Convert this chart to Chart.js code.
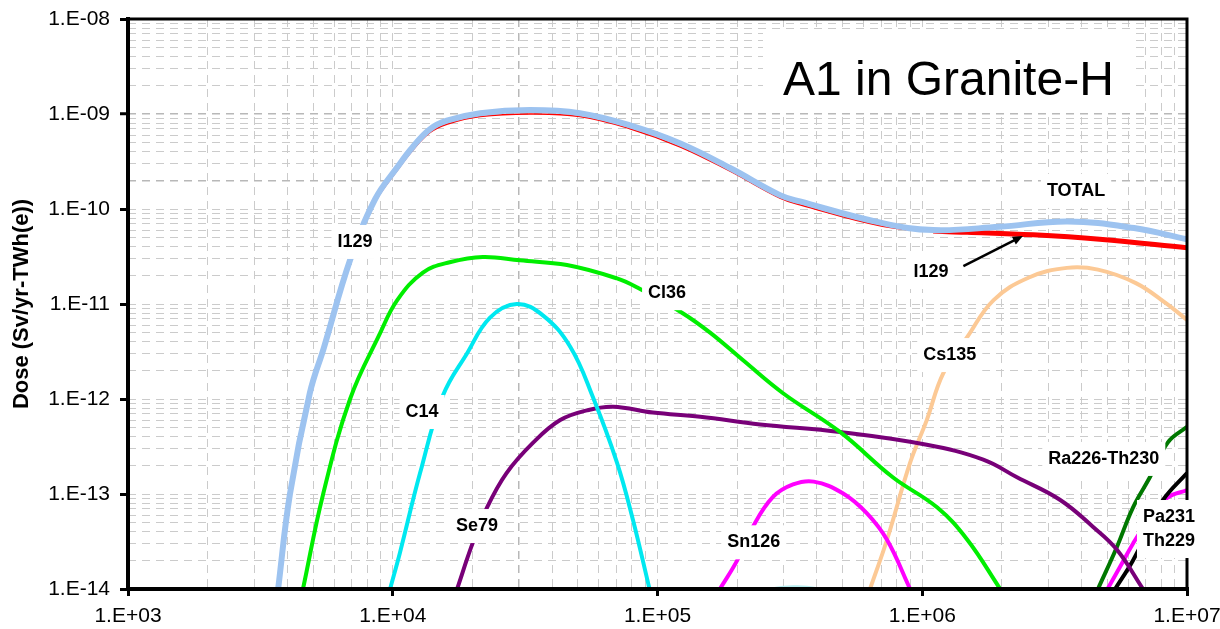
<!DOCTYPE html>
<html>
<head>
<meta charset="utf-8">
<script src="https://cdn.jsdelivr.net/npm/chart.js@4/dist/chart.umd.min.js"></script>
<style>
  body { margin: 0; background: #fff; }
</style>
</head>
<body>
<canvas id="doseChart" width="1220" height="629"></canvas>
<script>
// time (years) and dose (Sv/yr-TWh(e))
const totalYears = [3.69e3, 4.09e3, 4.86e3, 5.5e3, 6.9e3, 8.57e3, 1.04e4, 1.19e4, 1.38e4, 1.6e4, 2.14e4, 3.3e4, 5.09e4, 7.87e4, 1.22e5, 1.88e5, 2.9e5, 3.45e5, 7.08e5, 1.1e6, 1.95e6, 3.55e6, 6.31e6, 1e7];
const totalDose = [1e-14, 1e-13, 1.15e-12, 3.5e-12, 2.9e-11, 1.26e-10, 2.75e-10, 4.5e-10, 6.9e-10, 8.5e-10, 1.02e-9, 1.1e-9, 1.02e-9, 7.6e-10, 4.9e-10, 2.7e-10, 1.4e-10, 1.2e-10, 7.1e-11, 6.0e-11, 6.5e-11, 7.4e-11, 6.3e-11, 4.8e-11];

const i129Years = [3.69e3, 4.09e3, 4.86e3, 5.5e3, 6.9e3, 8.57e3, 1.04e4, 1.19e4, 1.38e4, 1.6e4, 2.14e4, 3.3e4, 5.09e4, 7.87e4, 1.22e5, 1.88e5, 2.9e5, 3.45e5, 7.08e5, 1.1e6, 1.48e6, 2.63e6, 4.68e6, 1e7];
const i129Dose = [1e-14, 1e-13, 1.12e-12, 3.4e-12, 2.7e-11, 1.17e-10, 2.55e-10, 4.15e-10, 6.35e-10, 7.8e-10, 9.4e-10, 1.0e-9, 9.4e-10, 7.0e-10, 4.5e-10, 2.5e-10, 1.3e-10, 1.11e-10, 6.6e-11, 5.85e-11, 5.7e-11, 5.35e-11, 4.8e-11, 3.9e-11];

const cl36Years = [4.58e3, 5.46e3, 6.9e3, 8.95e3, 1.04e4, 1.3e4, 1.64e4, 2.19e4, 3.02e4, 4.55e4, 7.03e4, 8.43e4, 1.22e5, 1.58e5, 2.1e5, 2.98e5, 4.89e5, 7.74e5, 1.14e6, 1.48e6, 1.97e6];
const cl36Dose = [1e-14, 1e-13, 1e-12, 4.9e-12, 1.1e-11, 2.14e-11, 2.75e-11, 3.13e-11, 2.88e-11, 2.57e-11, 1.86e-11, 1.48e-11, 8.3e-12, 5.0e-12, 2.57e-12, 1.15e-12, 4.5e-13, 1.5e-13, 7.2e-14, 3.3e-14, 1e-14];

const c14Years = [9.77e3, 1.064e4, 1.268e4, 1.55e4, 1.905e4, 2.33e4, 2.94e4, 3.69e4, 4.68e4, 5.7e4, 7.03e4, 8.07e4, 9.33e4];
const c14Dose = [1e-14, 2.4e-14, 1.66e-13, 1.1e-12, 3.0e-12, 7.2e-12, 1e-11, 7.6e-12, 3.55e-12, 1.05e-12, 2.14e-13, 5.4e-14, 1e-14];

const se79Years = [1.75e4, 2.0e4, 2.27e4, 2.69e4, 3.39e4, 4.29e4, 5.42e4, 6.79e4, 9.6e4, 1.45e5, 2.44e5, 4.89e5, 1.04e6, 1.7e6, 2.28e6, 3.31e6, 4.42e6, 5.43e6, 6.82e6];
const se79Dose = [1e-14, 3.0e-14, 7.2e-14, 1.66e-13, 3.47e-13, 6.0e-13, 7.6e-13, 8.3e-13, 7.2e-13, 6.5e-13, 5.4e-13, 4.5e-13, 3.3e-13, 2.3e-13, 1.5e-13, 8.7e-14, 4.5e-14, 2.6e-14, 1e-14];

const sn126Years = [1.72e5, 2.0e5, 2.29e5, 2.73e5, 3.25e5, 3.89e5, 5.01e5, 6.17e5, 7.36e5, 9.0e5];
const sn126Dose = [1e-14, 2.0e-14, 4.5e-14, 9.3e-14, 1.26e-13, 1.35e-13, 1.02e-13, 6.3e-14, 3.3e-14, 1e-14];

const cs135Years = [6.35e5, 7.36e5, 9.0e5, 1.04e6, 1.2e6, 1.48e6, 1.86e6, 2.53e6, 3.52e6, 4.61e6, 6.41e6, 8.32e6, 1e7];
const cs135Dose = [1e-14, 3.3e-14, 2.14e-13, 6.0e-13, 1.86e-12, 4.5e-12, 1.1e-11, 1.9e-11, 2.4e-11, 2.3e-11, 1.66e-11, 1.02e-11, 6.8e-12];

const ra226Years = [4.61e6, 5.43e6, 6.25e6, 7.24e6, 8.47e6, 1e7];
const ra226Dose = [1e-14, 2.75e-14, 7.2e-14, 1.5e-13, 3.5e-13, 5.1e-13];

const pa231Years = [5.35e6, 6.25e6, 7.24e6, 8.13e6, 1e7];
const pa231Dose = [1e-14, 2.0e-14, 4.5e-14, 8.7e-14, 1.66e-13];

const th229Years = [5.01e6, 5.58e6, 6.25e6, 7.24e6, 8.41e6, 1e7];
const th229Dose = [1e-14, 1.7e-14, 3.0e-14, 5.6e-14, 9.1e-14, 1.1e-13];

// faint bump just above the x axis
const minorYears = [2.3e5, 2.8e5, 3.3e5, 3.9e5, 4.6e5];
const minorDose = [8.5e-15, 1.03e-14, 1.07e-14, 1.03e-14, 8.5e-15];

const xTickLabels = ['1.E+03', '1.E+04', '1.E+05', '1.E+06', '1.E+07'];
const yTickLabels = ['1.E-14', '1.E-13', '1.E-12', '1.E-11', '1.E-10', '1.E-09', '1.E-08'];

// curve names placed on the plot (data coordinates)
const curveLabels = [
  { text: 'I129', x: 7.2e3, y: 4.5e-11 },
  { text: 'Cl36', x: 1.087e5, y: 1.3e-11 },
  { text: 'C14', x: 1.29e4, y: 7.3e-13 },
  { text: 'Se79', x: 2.08e4, y: 4.6e-14 },
  { text: 'Sn126', x: 2.31e5, y: 3.1e-14 },
  { text: 'Cs135', x: 1.27e6, y: 2.9e-12 },
  { text: 'I129', x: 1.08e6, y: 2.17e-11 },
  { text: 'TOTAL', x: 3.81e6, y: 1.55e-10 },
  { text: 'Ra226-Th230', x: 4.85e6, y: 2.34e-13 },
  { text: 'Pa231\nTh229', x: 8.55e6, y: 4.28e-14 }
];
const arrowFrom = [1.43e6, 2.5e-11];
const arrowTo = [2.4e6, 5.2e-11];

const FONT = '"Liberation Sans", Arial, sans-serif';

const pts = (xs, ys) => xs.map((x, i) => ({ x: x, y: ys[i] }));

function line(label, xs, ys, color, width) {
  return {
    label: label,
    data: pts(xs, ys),
    borderColor: color,
    borderWidth: width,
    pointRadius: 0,
    fill: false,
    tension: 0.4
  };
}

const isDecade = v => Math.abs(Math.log10(v) - Math.round(Math.log10(v))) < 1e-6;
const near = (v, t) => Math.abs(v / t - 1) < 1e-6;

function logTicks(fromExp, toExp) {
  const out = [];
  for (let e = fromExp; e < toExp; e++) {
    for (let m = 1; m < 10; m++) out.push({ value: m * Math.pow(10, e) });
  }
  out.push({ value: Math.pow(10, toExp) });
  return out;
}

const i129Line = line('I129', i129Years, i129Dose, '#ff0000', 2);
i129Line.segment = { borderWidth: c => (c.p0.parsed.x >= 1.05e6 ? 5 : 1.5) };

const overlay = {
  id: 'overlay',
  afterDatasetsDraw(chart) {
    const { ctx, chartArea: a, scales: { x, y } } = chart;
    ctx.save();
    ctx.strokeStyle = '#000';
    ctx.lineCap = 'square';
    ctx.lineWidth = 3;
    ctx.beginPath();
    ctx.moveTo(a.left, a.top); ctx.lineTo(a.right, a.top); ctx.lineTo(a.right, a.bottom);
    ctx.stroke();
    ctx.lineWidth = 4;
    ctx.beginPath();
    ctx.moveTo(a.left, a.top); ctx.lineTo(a.left, a.bottom); ctx.lineTo(a.right, a.bottom);
    ctx.stroke();

    // labels on white boxes
    ctx.font = 'bold 18px ' + FONT;
    ctx.textAlign = 'center';
    ctx.textBaseline = 'middle';
    curveLabels.forEach(l => {
      const lines = l.text.split('\n');
      const px = x.getPixelForValue(l.x);
      const py = y.getPixelForValue(l.y);
      const w = Math.max(...lines.map(t => ctx.measureText(t).width)) + 12;
      const h = lines.length * 24 + 10;
      ctx.fillStyle = '#fff';
      ctx.fillRect(px - w / 2, py - h / 2, w, h);
      ctx.fillStyle = '#000';
      lines.forEach((t, i) => ctx.fillText(t, px, py + (i - (lines.length - 1) / 2) * 24));
    });

    // arrow to the I129 curve
    const x0 = x.getPixelForValue(arrowFrom[0]), y0 = y.getPixelForValue(arrowFrom[1]);
    const x1 = x.getPixelForValue(arrowTo[0]), y1 = y.getPixelForValue(arrowTo[1]);
    const ang = Math.atan2(y1 - y0, x1 - x0);
    ctx.strokeStyle = '#000';
    ctx.lineWidth = 2.5;
    ctx.lineCap = 'butt';
    ctx.beginPath();
    ctx.moveTo(x0, y0);
    ctx.lineTo(x1 - 6 * Math.cos(ang), y1 - 6 * Math.sin(ang));
    ctx.stroke();
    ctx.fillStyle = '#000';
    ctx.beginPath();
    ctx.moveTo(x1, y1);
    ctx.lineTo(x1 - 11 * Math.cos(ang - 0.4), y1 - 11 * Math.sin(ang - 0.4));
    ctx.lineTo(x1 - 11 * Math.cos(ang + 0.4), y1 - 11 * Math.sin(ang + 0.4));
    ctx.closePath();
    ctx.fill();

    // title box
    ctx.fillStyle = '#fff';
    ctx.fillRect(a.left + 635, a.top + 14, 367, 80);
    ctx.fillStyle = '#000';
    ctx.font = '48px ' + FONT;
    ctx.textAlign = 'left';
    ctx.textBaseline = 'alphabetic';
    ctx.fillText('A1 in Granite-H', a.left + 655, a.top + 76);
    ctx.restore();
  }
};

new Chart(document.getElementById('doseChart'), {
  type: 'line',
  data: {
    datasets: [
      line('TOTAL', totalYears, totalDose, '#9dc3f0', 6),
      i129Line,
      line('Cl36', cl36Years, cl36Dose, '#00ee00', 4),
      line('C14', c14Years, c14Dose, '#00e8f0', 4),
      line('Se79', se79Years, se79Dose, '#780078', 4),
      line('Sn126', sn126Years, sn126Dose, '#ff00ff', 4),
      line('Cs135', cs135Years, cs135Dose, '#fcc995', 4),
      line('Ra226-Th230', ra226Years, ra226Dose, '#007800', 4),
      line('Pa231', pa231Years, pa231Dose, '#000000', 4),
      line('Th229', th229Years, th229Dose, '#ff00ff', 4),
      line('', minorYears, minorDose, '#b8eef0', 2)
    ]
  },
  options: {
    responsive: false,
    animation: false,
    devicePixelRatio: 1,
    layout: { padding: { top: 19, right: 33, left: 0, bottom: 0 } },
    plugins: {
      legend: { display: false },
      tooltip: { enabled: false }
    },
    scales: {
      x: {
        type: 'logarithmic',
        min: 1e3,
        max: 1e7,
        afterBuildTicks: s => { s.ticks = logTicks(3, 7); },
        afterFit: s => { s.height = 40; s.paddingLeft = 0; s.paddingRight = 0; },
        border: { display: false, dash: [8, 6] },
        grid: {
          color: c => (c.tick && near(c.tick.value, 3e4) ? '#b8b8b8' : '#cbcbcb'),
          lineWidth: c => (c.tick && near(c.tick.value, 3e4) ? 1.5 : 1),
          tickColor: c => (c.tick && isDecade(c.tick.value) ? '#000' : 'rgba(0,0,0,0)'),
          tickWidth: 3,
          tickLength: 7
        },
        ticks: {
          autoSkip: false,
          maxRotation: 0,
          minRotation: 0,
          padding: 8,
          color: '#000',
          font: { family: FONT, size: 21 },
          callback: v => (isDecade(v) ? xTickLabels[Math.round(Math.log10(v)) - 3] : '')
        }
      },
      y: {
        type: 'logarithmic',
        min: 1e-14,
        max: 1e-8,
        afterBuildTicks: s => { s.ticks = logTicks(-14, -8); },
        afterFit: s => { s.width = 128; s.paddingTop = 0; s.paddingBottom = 0; },
        border: { display: false, dash: [8, 6] },
        grid: {
          color: c => (c.tick && (near(c.tick.value, 1e-9) || near(c.tick.value, 2e-10)) ? '#b8b8b8' : '#cbcbcb'),
          lineWidth: c => (c.tick && (near(c.tick.value, 1e-9) || near(c.tick.value, 2e-10)) ? 1.5 : 1),
          tickColor: c => (c.tick && isDecade(c.tick.value) ? '#000' : 'rgba(0,0,0,0)'),
          tickWidth: 3,
          tickLength: 8
        },
        ticks: {
          autoSkip: false,
          padding: 10,
          color: '#000',
          font: { family: FONT, size: 21 },
          callback: v => (isDecade(v) ? yTickLabels[Math.round(Math.log10(v)) + 14] : '')
        },
        title: {
          display: true,
          text: 'Dose (Sv/yr-TWh(e))',
          color: '#000',
          font: { family: FONT, size: 22, weight: 'bold' },
          padding: { top: 9, bottom: 0 }
        }
      }
    }
  },
  plugins: [overlay]
});
</script>
</body>
</html>
